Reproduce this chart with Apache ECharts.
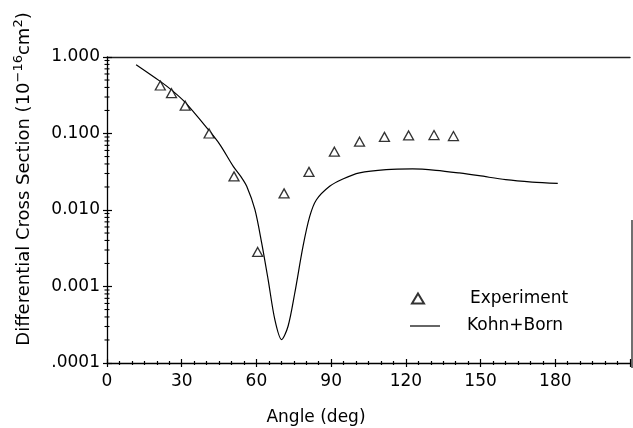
<!DOCTYPE html>
<html>
<head>
<meta charset="utf-8">
<script src="https://cdn.jsdelivr.net/npm/echarts@6/dist/echarts.min.js"></script>
<style>
  html, body { margin: 0; padding: 0; background: #fff; }
  #chart { width: 633px; height: 428px; }
</style>
</head>
<body>
<div id="chart"></div>
<script>
// Measured differential cross sections (angle in degrees, value in 1e-16 cm^2)
const expAngles = [21.4, 25.9, 31.4, 41, 51, 60.5, 71.1, 81.1, 91.3, 101.4, 111.4, 121.1, 131.3, 139.1];
const expValues = [0.424, 0.336, 0.231, 0.100, 0.0275, 0.00283, 0.0165, 0.0315, 0.0578, 0.0781, 0.0903, 0.0944, 0.0955, 0.0927];

// Kohn + Born calculation
const calcAngles = [11.7, 21.4, 26.1, 31.4, 40.7, 45.4, 50.7, 53.7, 56.1, 59.4, 62.1, 64.7, 67.4, 70.1, 72.7, 75.4, 78.7, 81.4, 84.1, 89.4, 94.7, 101.4, 112.1, 122.7, 132.1, 141.4, 149.4, 160.1, 170.7, 181];
const calcValues = [0.794, 0.480, 0.366, 0.255, 0.112, 0.0711, 0.0372, 0.0275, 0.0204, 0.0101, 0.00372, 0.00123, 0.000368, 0.000202, 0.000302, 0.000822, 0.00334, 0.00824, 0.0136, 0.0204, 0.0254, 0.0305, 0.0337, 0.0344, 0.0330, 0.0305, 0.0281, 0.0249, 0.0232, 0.0223];

// Axis tick labels
const xTickValues = [0, 30, 60, 90, 120, 150, 180];
const yTickValues = [1, 0.1, 0.01, 0.001, 0.0001];
const yTickLabels = ['1.000', '0.100', '0.010', '0.001', '.0001'];
// Logarithmic minor tick positions (2..9 within each decade)
const yMinorTicks = [
  0.0002, 0.0003, 0.0004, 0.0005, 0.0006, 0.0007, 0.0008, 0.0009,
  0.002, 0.003, 0.004, 0.005, 0.006, 0.007, 0.008, 0.009,
  0.02, 0.03, 0.04, 0.05, 0.06, 0.07, 0.08, 0.09,
  0.2, 0.3, 0.4, 0.5, 0.6, 0.7, 0.8, 0.9
];

const seriesNames = ['Experiment', 'Kohn+Born'];

const FONT = 'DejaVu Sans';
const INK = '#000';

const expData = expAngles.map((a, i) => [a, expValues[i]]);
const calcData = calcAngles.map((a, i) => [a, calcValues[i]]);
const minorData = yMinorTicks.map(v => [0, v]);

function yLabel(v) {
  for (let i = 0; i < yTickValues.length; i++) {
    if (Math.abs(Math.log10(v) - Math.log10(yTickValues[i])) < 1e-6) return yTickLabels[i];
  }
  return '';
}
function xLabel(v) {
  return xTickValues.indexOf(v) >= 0 ? String(v) : '';
}

const baseX = {
  type: 'value', min: 0, max: 210, interval: 30,
  splitLine: { show: false }
};
const baseY = {
  type: 'log', logBase: 10, min: 0.0001, max: 1,
  splitLine: { show: false }
};

const chart = echarts.init(document.getElementById('chart'), null, { renderer: 'canvas' });
chart.setOption({
  animation: false,
  backgroundColor: '#fff',
  grid: { left: 107, right: 1, top: 57, bottom: 65 },
  xAxis: [
    Object.assign({}, baseX, {
      position: 'bottom',
      axisLine: { show: true, lineStyle: { color: INK, width: 1.3 } },
      axisTick: { show: true, length: 4, lineStyle: { color: INK, width: 1.2 } },
      minorTick: { show: true, splitNumber: 6, length: 2, lineStyle: { color: INK, width: 1.2 } },
      axisLabel: { formatter: xLabel, margin: 10, color: INK, fontFamily: FONT, fontSize: 17 }
    }),
    Object.assign({}, baseX, {
      position: 'bottom',
      axisLine: { show: false },
      axisTick: { show: true, inside: true, length: 4, lineStyle: { color: INK, width: 1.2 } },
      minorTick: { show: true, splitNumber: 6, length: 2, lineStyle: { color: INK, width: 1.2 } },
      axisLabel: { show: false }
    }),
    Object.assign({}, baseX, {
      position: 'top',
      axisLine: { show: true, lineStyle: { color: '#222', width: 1.4 } },
      axisTick: { show: false },
      axisLabel: { show: false }
    })
  ],
  yAxis: [
    Object.assign({}, baseY, {
      position: 'left',
      axisLine: { show: true, lineStyle: { color: INK, width: 1.3 } },
      axisTick: { show: true, length: 4, lineStyle: { color: INK, width: 1.2 } },
      axisLabel: { formatter: yLabel, margin: 7, color: INK, fontFamily: FONT, fontSize: 17 }
    }),
    Object.assign({}, baseY, {
      position: 'left',
      axisLine: { show: false },
      axisTick: { show: true, inside: true, length: 5, lineStyle: { color: INK, width: 1.2 } },
      axisLabel: { show: false }
    })
  ],
  legend: [
    {
      data: [seriesNames[0]],
      left: 411, top: 290, padding: 0,
      itemWidth: 12, itemHeight: 10,
      selectedMode: false,
      textStyle: { color: INK, fontFamily: FONT, fontSize: 17, padding: [0, 0, 0, 41] }
    },
    {
      data: [{ name: seriesNames[1], icon: 'rect' }],
      left: 410, top: 317.5, padding: 0,
      itemWidth: 30, itemHeight: 1.2,
      selectedMode: false,
      itemStyle: { color: INK },
      textStyle: { color: INK, fontFamily: FONT, fontSize: 17, padding: [0, 0, 0, 22] }
    }
  ],
  graphic: [
    {
      type: 'text', x: 316, y: 418,
      style: { text: 'Angle (deg)', font: '17px "DejaVu Sans"', fill: INK, align: 'center', verticalAlign: 'middle' }
    },
    {
      type: 'text', x: 24, y: 179, rotation: Math.PI / 2,
      style: {
        text: 'Differential Cross Section (10{sup|−16}cm{sup|2})',
        font: '18px "DejaVu Sans"', fill: INK, align: 'center', verticalAlign: 'middle',
        rich: {
          sup: { fontFamily: FONT, fontSize: 13, fill: INK, padding: [0, 0, 10, 0] }
        }
      }
    },
    {
      type: 'line', shape: { x1: 632, y1: 220, x2: 632, y2: 368 },
      style: { stroke: '#333', lineWidth: 1.4 }
    }
  ],
  series: [
    {
      name: seriesNames[0], type: 'scatter', data: expData,
      symbol: 'triangle', symbolSize: [10, 9],
      itemStyle: { color: '#fff', borderColor: INK, borderWidth: 1.3 },
      z: 4
    },
    {
      name: seriesNames[1], type: 'line', data: calcData,
      smooth: 0.3, showSymbol: false, symbol: 'none',
      lineStyle: { color: INK, width: 1.2 },
      itemStyle: { color: INK },
      z: 3
    },
    {
      type: 'custom', data: minorData, silent: true, clip: false,
      xAxisIndex: 0, yAxisIndex: 0,
      renderItem: function (params, api) {
        const p = api.coord([api.value(0), api.value(1)]);
        return {
          type: 'line',
          shape: { x1: p[0] - 2.5, y1: p[1], x2: p[0] + 2.5, y2: p[1] },
          style: { stroke: INK, lineWidth: 1.1 }
        };
      },
      z: 5
    }
  ]
});
</script>
</body>
</html>
